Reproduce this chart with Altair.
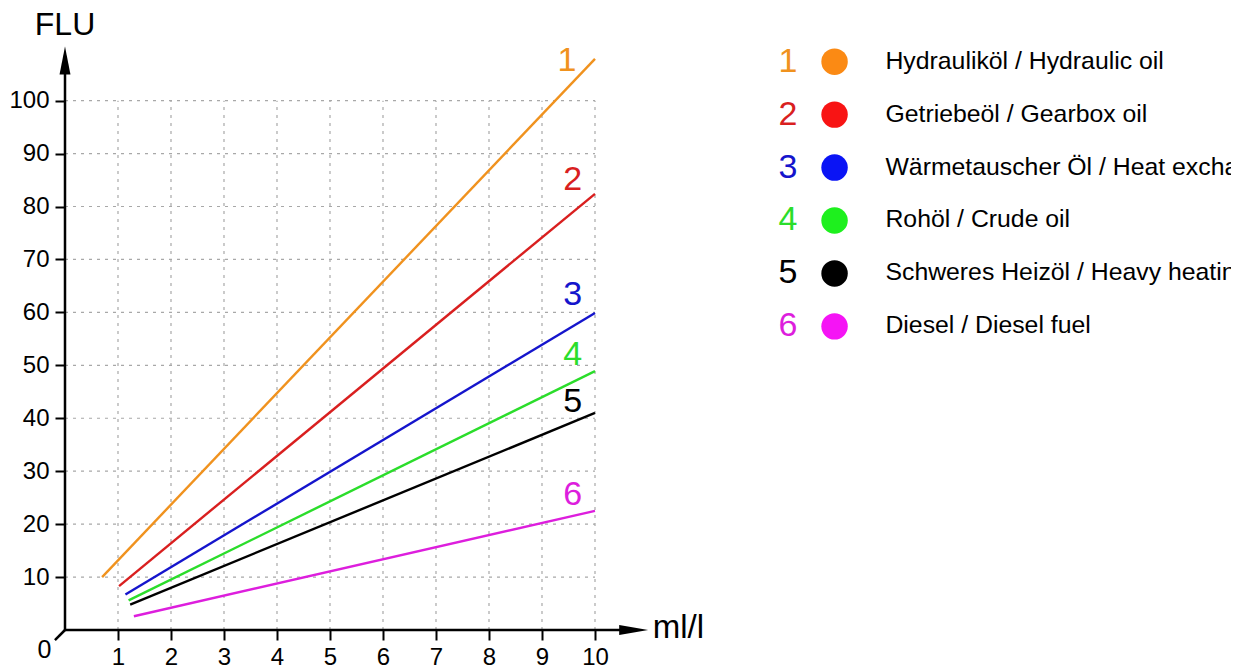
import altair as alt
import pandas as pd

FONT = "Liberation Sans, Arial, sans-serif"

# ---- data ----
series = ["1", "2", "3", "4", "5", "6"]
names = [
    "Hydrauliköl / Hydraulic oil",
    "Getriebeöl / Gearbox oil",
    "Wärmetauscher Öl / Heat exchanger oil",
    "Rohöl / Crude oil",
    "Schweres Heizöl / Heavy heating oil",
    "Diesel / Diesel fuel",
]
line_colors = ["#F0921E", "#D91F1F", "#1515CC", "#2BDD2B", "#000000", "#DD1EDD"]
dot_colors = ["#FB8A14", "#F81414", "#0A14F5", "#1EF01E", "#000000", "#F514F5"]

x_start = [0.70, 1.02, 1.14, 1.20, 1.23, 1.30]
y_start = [10.0, 8.3, 6.7, 5.6, 4.8, 2.6]
x_end = [10.0, 10.0, 10.0, 10.0, 10.0, 10.0]
y_end = [107.9, 82.4, 59.9, 48.9, 41.0, 22.5]

label_x = [9.47, 9.58, 9.58, 9.58, 9.58, 9.58]
label_y = [107.4, 85.1, 63.3, 52.0, 43.1, 25.5]

x_ticks = [1, 2, 3, 4, 5, 6, 7, 8, 9, 10]
y_ticks = [10, 20, 30, 40, 50, 60, 70, 80, 90, 100]

# ---- tables ----
lines_df = pd.DataFrame(
    [{"series": s, "x": a, "y": b, "o": 0} for s, a, b in zip(series, x_start, y_start)]
    + [{"series": s, "x": a, "y": b, "o": 1} for s, a, b in zip(series, x_end, y_end)]
)
labels_df = pd.DataFrame({"series": series, "x": label_x, "y": label_y})
legend_df = pd.DataFrame({"series": series, "name": names, "rank": list(range(len(series)))})
gv_df = pd.DataFrame({"x": x_ticks, "y": 0, "y2": max(y_ticks)})
gh_df = pd.DataFrame({"y": y_ticks, "x": 0, "x2": max(x_ticks)})

W = 1166
xscale = alt.Scale(domain=[0, W / 53.0], nice=False, zero=False)
yscale = alt.Scale(domain=[0, 117.5], nice=False, zero=False)

xaxis = alt.Axis(values=x_ticks, domain=False, grid=False, title=None,
                 tickSize=10, tickWidth=2, tickColor="black",
                 labelFontSize=24, labelFont=FONT, labelColor="black",
                 labelPadding=5, labelOverlap=False)
yaxis = alt.Axis(values=y_ticks, domain=False, grid=False, title=None,
                 tickSize=10, tickWidth=2, tickColor="black",
                 labelFontSize=24, labelFont=FONT, labelColor="black",
                 labelPadding=6, labelOverlap=False)


def X(f):
    return alt.X(f, type="quantitative", scale=xscale, axis=xaxis)


def Y(f):
    return alt.Y(f, type="quantitative", scale=yscale, axis=yaxis)


color_line = alt.Color("series:N", scale=alt.Scale(domain=series, range=line_colors), legend=None)
color_dot = alt.Color("series:N", scale=alt.Scale(domain=series, range=dot_colors), legend=None)

grid_v = alt.Chart(gv_df).mark_rule(color="#A8A8A8", strokeWidth=1.2, strokeDash=[3, 5]).encode(
    x=X("x"), y=Y("y"), y2="y2")
grid_h = alt.Chart(gh_df).mark_rule(color="#A8A8A8", strokeWidth=1.2, strokeDash=[3, 5]).encode(
    y=Y("y"), x=X("x"), x2="x2")

axes_df = pd.DataFrame({"x": [0, 0, 0], "y": [0, 0, 0], "x2": [10.5, 0, -0.19], "y2": [0, 105.5, -1.9]})
axes = alt.Chart(axes_df).mark_rule(color="black", strokeWidth=2.5).encode(
    x=X("x"), y=Y("y"), x2="x2", y2="y2")

xhead = alt.Chart(pd.DataFrame({"x": [10.73], "y": [0]})).mark_point(
    shape="M-1,-0.35L1,0L-1,0.35Z", size=841, filled=True, color="black", opacity=1
).encode(x=X("x"), y=Y("y"))
yhead = alt.Chart(pd.DataFrame({"x": [0], "y": [107.6]})).mark_point(
    shape="M-0.39,1L0,-1L0.39,1Z", size=784, filled=True, color="black", opacity=1
).encode(x=X("x"), y=Y("y"))

lines = alt.Chart(lines_df).mark_line(strokeWidth=2.4).encode(
    x=X("x"), y=Y("y"), color=color_line, order="o:Q")

line_labels = alt.Chart(labels_df).mark_text(fontSize=34, font=FONT, align="center", baseline="middle").encode(
    x=X("x"), y=Y("y"), text="series:N", color=color_line)

legend_base = alt.Chart(legend_df).transform_calculate(
    ly="107.36 - 10 * datum.rank", nx="13.64", dx="14.52", tx="15.48")
leg_num = legend_base.mark_text(fontSize=34, font=FONT, align="center", baseline="middle").encode(
    x=X("nx"), y=Y("ly"), text="series:N", color=color_line)
leg_dot = legend_base.mark_point(shape="circle", size=700, filled=True, opacity=1).encode(
    x=X("dx"), y=Y("ly"), color=color_dot)
leg_txt = legend_base.mark_text(fontSize=24.8, font=FONT, align="left", baseline="middle",
                                color="black", clip=True).encode(
    x=X("tx"), y=Y("ly"), text="name:N")

titles_df = pd.DataFrame({"t": ["FLU", "ml/l", "0"], "x": [0.0, 11.09, -0.39], "y": [114.3, 0.38, -3.7]})
t_flu = alt.Chart(titles_df.iloc[[0]]).mark_text(fontSize=32, font=FONT, align="center", baseline="middle",
                                                 color="black").encode(x=X("x"), y=Y("y"), text="t:N")
t_ml = alt.Chart(titles_df.iloc[[1]]).mark_text(fontSize=33, font=FONT, align="left", baseline="middle",
                                                color="black").encode(x=X("x"), y=Y("y"), text="t:N")
t_zero = alt.Chart(titles_df.iloc[[2]]).mark_text(fontSize=25, font=FONT, align="center", baseline="middle",
                                                  color="black").encode(x=X("x"), y=Y("y"), text="t:N")

chart = alt.layer(
    grid_v, grid_h, lines, axes, xhead, yhead, line_labels,
    leg_num, leg_dot, leg_txt, t_flu, t_ml, t_zero
).resolve_scale(color="independent").properties(
    width=W, height=622, background="white", padding=0
).configure_view(stroke=None)

chart.save("out.html", embed_options={"renderer": "svg", "actions": False})
